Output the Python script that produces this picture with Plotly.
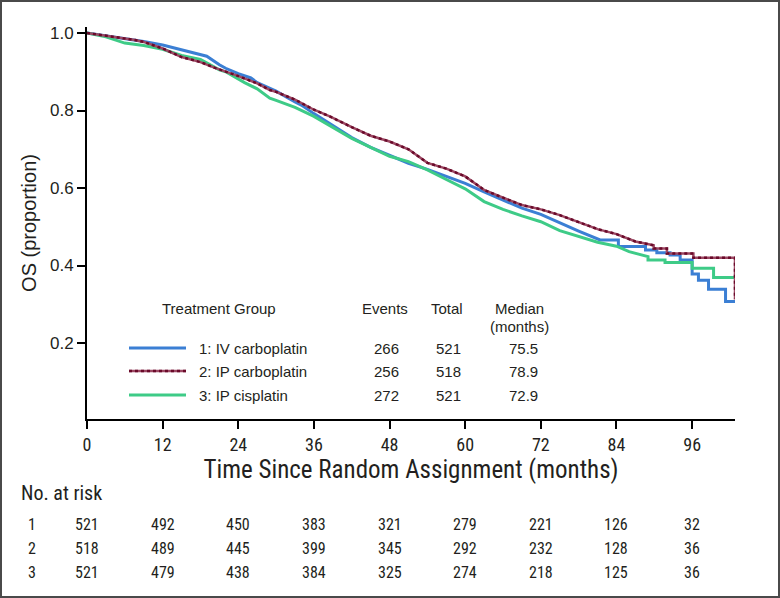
import plotly.graph_objects as go

# ---------------- data ----------------
months_iv = [0, 3, 6, 7.6, 9, 12, 15, 18, 19, 21, 22, 24, 26, 27, 29, 30, 33, 34, 36, 39, 42, 45, 48, 51, 54, 57, 60, 63, 66, 69, 72, 75, 78, 81.4,
             84.3, 84.3, 88.6, 88.6, 90.4, 90.4, 92.5, 92.5, 94.1, 94.1, 96.0, 96.0, 97.0, 97.0, 98.6, 98.6, 101.3, 101.3, 102.8]
surv_iv = [1.0, 0.993, 0.986, 0.982, 0.978, 0.969, 0.957, 0.945, 0.940, 0.918, 0.909, 0.895, 0.884, 0.872, 0.858, 0.850, 0.822, 0.814, 0.792, 0.762, 0.730, 0.705, 0.684, 0.664, 0.648, 0.630, 0.612, 0.590, 0.568, 0.548, 0.532, 0.510, 0.489, 0.466,
           0.466, 0.449, 0.449, 0.440, 0.440, 0.433, 0.433, 0.427, 0.427, 0.414, 0.414, 0.378, 0.378, 0.362, 0.362, 0.339, 0.339, 0.307, 0.307]

months_ipcarbo = [0, 3, 6, 7.6, 9, 12, 15, 18, 20.3, 23.5, 27, 29, 30, 33, 36, 38.6, 42, 45, 48, 51, 54, 57, 60, 63, 66, 69, 72, 75, 78, 81, 84, 87,
                  89.9, 89.9, 92.0, 92.0, 96.2, 96.2, 102.8, 102.8]
surv_ipcarbo = [1.0, 0.993, 0.986, 0.982, 0.977, 0.960, 0.938, 0.925, 0.910, 0.892, 0.870, 0.853, 0.848, 0.828, 0.802, 0.784, 0.757, 0.735, 0.720, 0.700, 0.665, 0.650, 0.630, 0.595, 0.575, 0.556, 0.545, 0.530, 0.512, 0.494, 0.481, 0.462,
                0.452, 0.444, 0.444, 0.431, 0.431, 0.420, 0.420, 0.313]

months_ipcis = [0, 3, 6, 9, 12, 15, 18, 21, 22, 24, 25, 27, 29, 30, 33, 36, 39, 42, 45, 48, 51, 54, 57, 60, 63, 66, 69, 72, 75, 78, 81, 84, 86,
                89.0, 89.0, 91.7, 91.7, 96.0, 96.0, 99.4, 99.4, 102.8]
surv_ipcis = [1.0, 0.990, 0.974, 0.968, 0.958, 0.942, 0.932, 0.905, 0.900, 0.880, 0.872, 0.856, 0.832, 0.826, 0.808, 0.785, 0.756, 0.728, 0.705, 0.682, 0.668, 0.647, 0.622, 0.598, 0.565, 0.545, 0.528, 0.513, 0.490, 0.474, 0.460, 0.450, 0.436,
              0.423, 0.414, 0.414, 0.408, 0.408, 0.393, 0.393, 0.369, 0.369]

group_names = ["1: IV carboplatin", "2: IP carboplatin", "3: IP cisplatin"]
group_events = [266, 256, 272]
group_totals = [521, 518, 521]
group_medians = ["75.5", "78.9", "72.9"]

risk_times = [0, 12, 24, 36, 48, 60, 72, 84, 96]
risk_1 = [521, 492, 450, 383, 321, 279, 221, 126, 32]
risk_2 = [518, 489, 445, 399, 345, 292, 232, 128, 36]
risk_3 = [521, 479, 438, 384, 325, 274, 218, 125, 36]

y_ticks = [0.2, 0.4, 0.6, 0.8, 1.0]

# ---------------- styling ----------------
W, H = 780, 598
L, R, T, B = 87, 45, 27, 179
PW, PH = W - L - R, H - T - B

BLUE = "#3b7fd4"
RED_BASE = "#9c4863"
RED_DOT = "#6a0a2a"
GREEN = "#3ecb87"
TXT = "#231f20"
SANS = "Liberation Sans, Arial, Helvetica, sans-serif"
NARROW = "Liberation Sans Narrow, Arial Narrow, Roboto Condensed, Liberation Sans, sans-serif"


def xp(px):
    return (px - L) / PW


def yp(py):
    return (H - B - py) / PH


fig = go.Figure()
fig.add_trace(go.Scatter(x=months_iv, y=surv_iv, mode="lines", line=dict(color=BLUE, width=3), showlegend=False))
fig.add_trace(go.Scatter(x=months_ipcis, y=surv_ipcis, mode="lines", line=dict(color=GREEN, width=3), showlegend=False))
fig.add_trace(go.Scatter(x=months_ipcarbo, y=surv_ipcarbo, mode="lines", line=dict(color=RED_BASE, width=2.5), showlegend=False))
fig.add_trace(go.Scatter(x=months_ipcarbo, y=surv_ipcarbo, mode="lines", line=dict(color=RED_DOT, width=2.5, dash="dot"), showlegend=False))

ann = []
shapes = []


def txt(px, py, s, anchor="center", size=15, family=SANS):
    return dict(x=xp(px), y=yp(py), xref="paper", yref="paper", text=s, showarrow=False,
                xanchor=anchor, yanchor="middle", font=dict(family=family, size=size, color=TXT))


# legend block
ann.append(txt(160, 308, "Treatment Group", "left"))
ann.append(txt(385, 308, "Events"))
ann.append(txt(447, 308, "Total"))
ann.append(txt(519, 308, "Median"))
ann.append(txt(519, 326, "(months)"))
row_y = [348, 371, 395]
colors = [BLUE, RED_BASE, GREEN]
for i in range(3):
    ann.append(txt(197, row_y[i], group_names[i], "left"))
    ann.append(txt(386, row_y[i], str(group_events[i])))
    ann.append(txt(448, row_y[i], str(group_totals[i])))
    ann.append(txt(523, row_y[i], group_medians[i]))
    shapes.append(dict(type="line", xref="paper", yref="paper", x0=xp(129), x1=xp(186), y0=yp(row_y[i]), y1=yp(row_y[i]),
                       line=dict(color=colors[i], width=3 if i != 1 else 2.5)))
shapes.append(dict(type="line", xref="paper", yref="paper", x0=xp(129), x1=xp(186), y0=yp(row_y[1]), y1=yp(row_y[1]),
                   line=dict(color=RED_DOT, width=2.5, dash="dot")))

# risk table
ann.append(txt(19, 493, "No. at risk", "left", size=20, family=NARROW))
risk_rows = [risk_1, risk_2, risk_3]
risk_y = [524, 548, 572]
for r in range(3):
    ann.append(txt(32, risk_y[r], str(r + 1), size=16, family=NARROW))
    for t, v in zip(risk_times, risk_rows[r]):
        ann.append(dict(x=t, y=yp(risk_y[r]), xref="x", yref="paper", text=str(v), showarrow=False,
                        xanchor="center", yanchor="middle", font=dict(family=NARROW, size=16, color=TXT)))

# outer frame
shapes.append(dict(type="rect", xref="paper", yref="paper", x0=xp(1), x1=xp(779), y0=yp(597), y1=yp(1),
                   line=dict(color="#4a4a4a", width=2), layer="below"))

fig.update_layout(
    width=W, height=H,
    margin=dict(l=L, r=R, t=T, b=B),
    paper_bgcolor="white", plot_bgcolor="white",
    showlegend=False,
    annotations=ann, shapes=shapes,
    xaxis=dict(range=[0, 102.8], tickvals=risk_times, ticktext=[str(t) for t in risk_times],
               showline=True, linecolor="black", linewidth=2, ticks="outside", ticklen=8, tickwidth=1.5,
               tickcolor="black", showgrid=False, zeroline=False,
               tickfont=dict(family=NARROW, size=18, color=TXT),
               title=dict(text="Time Since Random Assignment (months)", font=dict(family=NARROW, size=25, color=TXT), standoff=4)),
    yaxis=dict(range=[0.004, 1.0155], tickvals=y_ticks, ticktext=["%.1f" % v for v in y_ticks],
               showline=True, linecolor="black", linewidth=2, ticks="outside", ticklen=8, tickwidth=1.5,
               tickcolor="black", showgrid=False, zeroline=False,
               tickfont=dict(family=SANS, size=17, color=TXT),
               title=dict(text="OS (proportion)", font=dict(family=SANS, size=20, color=TXT), standoff=8)),
)

fig.write_html("out.html", config={"displayModeBar": False},
               post_script="document.body.style.margin='0';document.body.style.padding='0';")
